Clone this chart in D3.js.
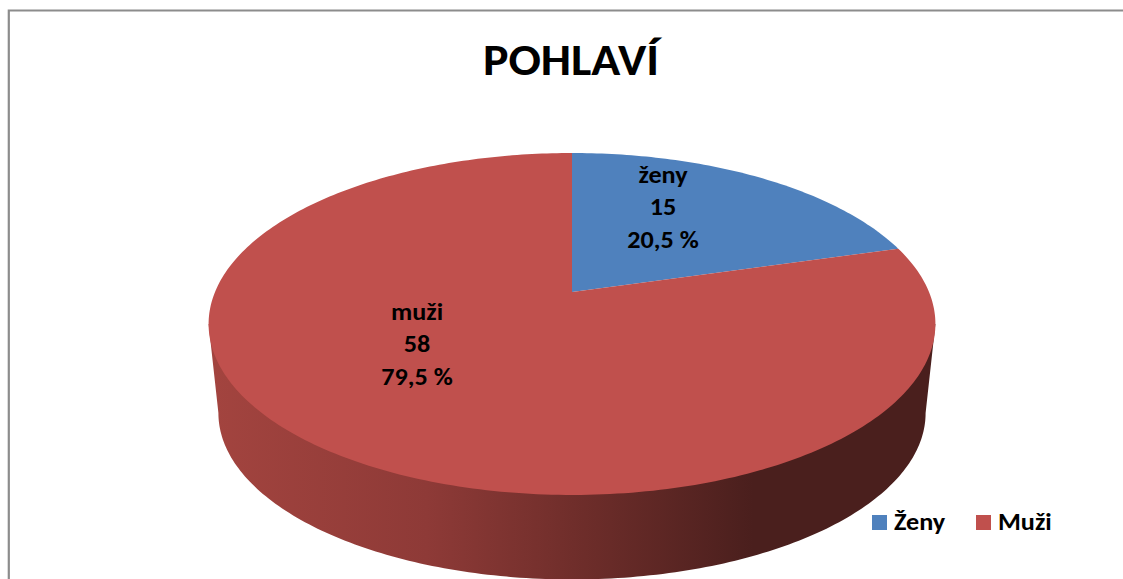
<!DOCTYPE html>
<html><head><meta charset="utf-8">
<script src="https://cdn.jsdelivr.net/npm/d3@7/dist/d3.min.js"></script>
<style>html,body{margin:0;padding:0;background:#fff;overflow:hidden}svg{display:block}
text{font-family:Carlito,Calibri,Lato,"Open Sans","Noto Sans",sans-serif;font-weight:700;fill:#000}</style>
</head><body><svg id="c" width="1123" height="579"></svg>
<script>
const categories=["ženy","muži"];
const legendLabels=["Ženy","Muži"];
const counts=[15,58];
const percents=["20,5 %","79,5 %"];
const colors=["#4f81bd","#c0504d"];
const title="POHLAVÍ";
const wallStops=[[0,"#a3443f"],[0.3,"#8e3a37"],[0.5,"#702e2b"],[0.75,"#4a1f1d"],[1,"#4a1f1d"]];

const svg=d3.select("#c");
// frame
svg.append("path").attr("d","M8.8 579V10.5H1123").attr("fill","none").attr("stroke","#8c8c8c").attr("stroke-width",2.2);

// perspective map of the unit disc
const cx=572,cy=292,k=0.187,ay=165,bx=357;
const proj=(u,v,dy=0,s=1)=>[cx+s*bx*u/(1+k*v),cy+dy-s*ay*v/(1+k*v)];
const pt=(a,r=1,dy,s)=>proj(r*Math.sin(a),r*Math.cos(a),dy,s);
const arcs=d3.pie().sort(null).startAngle(0).endAngle(2*Math.PI)(counts);

// gradient
const defs=svg.append("defs");
const g=defs.append("linearGradient").attr("id","wall").attr("gradientUnits","userSpaceOnUse")
 .attr("x1",209).attr("x2",935).attr("y1",0).attr("y2",0);
wallStops.forEach(s=>g.append("stop").attr("offset",s[0]).attr("stop-color",s[1]));

// side wall: front arc of the lower rim, between the two widest points of the disc
const line=d3.line();
const wallDy=90,wallS=0.973;
const a0=Math.PI/2+Math.asin(k),a1=3*Math.PI/2-Math.asin(k);
const front=d3.range(0,181).map(i=>a0+(a1-a0)*i/180);
const wallPts=[pt(a0),...front.map(a=>pt(a,1,wallDy,wallS)),pt(a1)];
svg.append("path").attr("d",line(wallPts)+"Z").attr("fill","url(#wall)");

// top slices
const slicePath=d=>{
  const n=Math.max(2,Math.ceil((d.endAngle-d.startAngle)*60));
  const pts=d3.range(n+1).map(i=>pt(d.startAngle+(d.endAngle-d.startAngle)*i/n));
  return line([[cx,cy],...pts])+"Z";
};
svg.selectAll("path.slice").data(arcs).join("path").attr("class","slice")
  .attr("d",slicePath).attr("fill",(d,i)=>colors[i]);

// text, slightly wider than tall as in the reference
const wide=1.09;
const put=(x,y,size,anchor,s)=>svg.append("text")
  .attr("transform",`translate(${x},${y}) scale(${wide},1)`)
  .attr("text-anchor",anchor).attr("font-size",size).text(s);

put(571,75,44,"middle",title);

const labelPos=[[663,183],[417,320]];
categories.forEach((c,i)=>{
  [c,counts[i],percents[i]].forEach((s,j)=>put(labelPos[i][0],labelPos[i][1]+j*32.3,24,"middle",s));
});

const legendX=[872,976],textX=[894,998];
legendLabels.forEach((l,i)=>{
  svg.append("rect").attr("x",legendX[i]).attr("y",515).attr("width",15).attr("height",15).attr("fill",colors[i]);
  put(textX[i],530,24,"start",l);
});
</script></body></html>
